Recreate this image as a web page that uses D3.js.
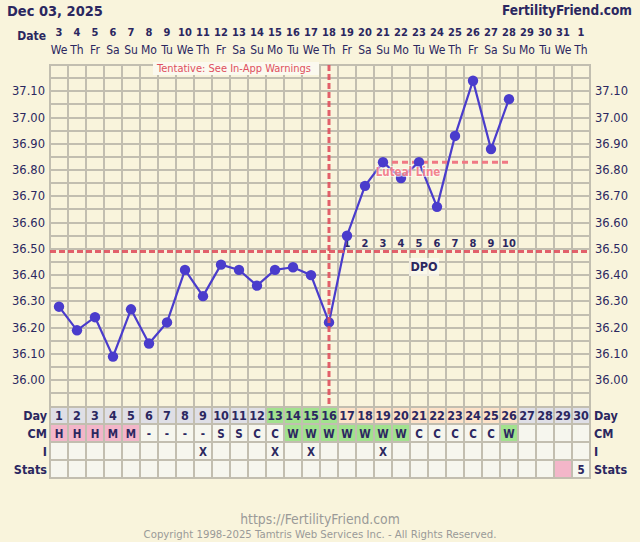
<!DOCTYPE html>
<html>
<head>
<meta charset="utf-8">
<script src="https://cdn.jsdelivr.net/npm/d3@7"></script>
<style>
html,body{margin:0;padding:0;background:#f9f4dc;}
svg{display:block;}
text{font-family:"DejaVu Sans Condensed","DejaVu Sans",sans-serif;font-stretch:condensed;}
</style>
</head>
<body>
<svg id="chart" width="640" height="542"></svg>
<script>
// ---------- data ----------
const cycleDays = d3.range(1, 31);
const dates = [3,4,5,6,7,8,9,10,11,12,13,14,15,16,17,18,19,20,21,22,23,24,25,26,27,28,29,30,31,1];
const weekdays = ["We","Th","Fr","Sa","Su","Mo","Tu","We","Th","Fr","Sa","Su","Mo","Tu","We","Th","Fr","Sa","Su","Mo","Tu","We","Th","Fr","Sa","Su","Mo","Tu","We","Th"];
const temps = [36.28,36.19,36.24,36.09,36.27,36.14,36.22,36.42,36.32,36.44,36.42,36.36,36.42,36.43,36.40,36.22,36.55,36.74,36.83,36.77,36.83,36.66,36.93,37.14,36.88,37.07];
const yTicks = [36.00,36.10,36.20,36.30,36.40,36.50,36.60,36.70,36.80,36.90,37.00,37.10];
const coverline = 36.49;
const ovulationDay = 16;
const lutealLine = {value: 36.83, fromDay: 20, to: 26};
const dpoLabels = [1,2,3,4,5,6,7,8,9,10];
const dpoStartDay = 17;
const dayPhase = ["pre","pre","pre","pre","pre","pre","pre","pre","pre","pre","pre","pre","fertile","fertile","fertile","fertile","post","post","post","post","post","post","post","post","post","post","future","future","future","future"];
const cm = ["H","H","H","M","M","-","-","-","-","S","S","C","C","W","W","W","W","W","W","W","C","C","C","C","C","W","","","",""];
const intercourseDays = [9,13,15,19];
const statsCells = [{day:29, text:"", color:"pink"},{day:30, text:"5", color:""}];
const rowLabels = ["Day","CM","I","Stats"];

// ---------- styles ----------
const navy = "#2b2760";
const gridCol = "#c2beb0";
const red = "#e0505e";
const lineCol = "#4a3ccc";
const phaseFill = {pre:"#dfdfe6", fertile:"#a2e28e", post:"#fde2c8", future:"#dfdfe6"};
const cmFill = v => (v==="H"||v==="M") ? "#f3b6c9" : v==="W" ? "#a2e28e" : "#f6f6ee";
const cellBlank = "#f6f6ee";

const svg = d3.select("#chart");
const x = d3.scaleBand().domain(cycleDays).range([50, 590]);
const y = d3.scaleLinear().domain([35.90, 37.20]).range([406.5, 65]);
const cx = d => x(d) + x.bandwidth()/2;
const rowTop = [406, 424, 442, 460];
const rowH = 18;
const tableBottom = 478;

// ---------- table fills ----------
const tbl = svg.append("g");
tbl.selectAll(".dayc").data(cycleDays).join("rect")
  .attr("x", d => x(d)).attr("y", rowTop[0]).attr("width", x.bandwidth()).attr("height", rowH)
  .attr("fill", (d,i) => phaseFill[dayPhase[i]]);
tbl.selectAll(".cmc").data(cycleDays).join("rect")
  .attr("x", d => x(d)).attr("y", rowTop[1]).attr("width", x.bandwidth()).attr("height", rowH)
  .attr("fill", (d,i) => cmFill(cm[i]));
tbl.selectAll(".ic").data(cycleDays).join("rect")
  .attr("x", d => x(d)).attr("y", rowTop[2]).attr("width", x.bandwidth()).attr("height", rowH)
  .attr("fill", cellBlank);
tbl.selectAll(".sc").data(cycleDays).join("rect")
  .attr("x", d => x(d)).attr("y", rowTop[3]).attr("width", x.bandwidth()).attr("height", rowH)
  .attr("fill", d => { const s = statsCells.find(c => c.day===d); return s && s.color==="pink" ? "#f3b6c9" : cellBlank; });

// ---------- grid ----------
const grid = svg.append("g").attr("stroke", gridCol).attr("stroke-width", 2);
const hVals = d3.range(0, 27).map(i => +(35.90 + i*0.05).toFixed(2));
grid.selectAll(".h").data(hVals).join("line")
  .attr("x1", 50).attr("x2", 590).attr("y1", d => Math.round(y(d))).attr("y2", d => Math.round(y(d)));
grid.selectAll(".r").data(rowTop.slice(1).concat([tableBottom])).join("line")
  .attr("x1", 50).attr("x2", 590).attr("y1", d => d).attr("y2", d => d);
const vEdges = cycleDays.map(d => x(d)).concat([590]);
grid.selectAll(".v").data(vEdges).join("line")
  .attr("x1", d => d).attr("x2", d => d).attr("y1", 64).attr("y2", tableBottom + 1);

// ---------- header ----------
svg.append("text").attr("x", 7).attr("y", 16).attr("fill", navy)
  .attr("font-size", 14.5).attr("font-weight", "bold").text("Dec 03, 2025");
svg.append("text").attr("x", 632).attr("y", 15).attr("text-anchor", "end").attr("fill", navy)
  .attr("font-size", 13.5).attr("font-weight", "bold").text("FertilityFriend.com");
svg.append("text").attr("x", 46).attr("y", 40).attr("text-anchor", "end").attr("fill", navy)
  .attr("font-size", 12).attr("font-weight", "bold").text("Date");
svg.append("g").selectAll("text").data(cycleDays).join("text")
  .attr("x", d => cx(d)).attr("y", 36).attr("text-anchor", "middle").attr("fill", navy)
  .attr("font-size", 11).attr("font-weight", "bold").text((d,i) => dates[i]);
svg.append("g").selectAll("text").data(cycleDays).join("text")
  .attr("x", d => cx(d)).attr("y", 54).attr("text-anchor", "middle").attr("fill", navy)
  .attr("font-size", 12).text((d,i) => weekdays[i]);

// ---------- y axes ----------
const yl = svg.append("g");
yl.selectAll(".l").data(yTicks).join("text")
  .attr("x", 45).attr("y", d => y(d) + 4).attr("text-anchor", "end").attr("fill", navy)
  .attr("font-size", 12.8).text(d => d.toFixed(2));
yl.selectAll(".rr").data(yTicks).join("text")
  .attr("x", 595).attr("y", d => y(d) + 4).attr("text-anchor", "start").attr("fill", navy)
  .attr("font-size", 12.8).text(d => d.toFixed(2));

// ---------- tentative label ----------
svg.append("rect").attr("x", 153).attr("y", 62).attr("width", 166).attr("height", 13).attr("fill", "#fbf9ef");
svg.append("text").attr("x", 157).attr("y", 71.5).attr("fill", red).attr("font-size", 11)
  .text("Tentative: See In-App Warnings");

// ---------- DPO ----------
svg.append("g").selectAll("text").data(dpoLabels).join("text")
  .attr("x", (d,i) => cx(dpoStartDay + i)).attr("y", 247).attr("text-anchor", "middle")
  .attr("fill", navy).attr("font-size", 11).attr("font-weight", "bold").text(d => d);
svg.append("rect").attr("x", 409).attr("y", 258).attr("width", 30).attr("height", 18).attr("fill", "#fbf9ef").attr("opacity", 0.8);
svg.append("text").attr("x", 424).attr("y", 270.5).attr("text-anchor", "middle").attr("fill", navy)
  .attr("font-size", 12.5).attr("font-weight", "bold").text("DPO");

// ---------- luteal line ----------
svg.append("line").attr("x1", x(lutealLine.fromDay)).attr("x2", cx(lutealLine.to))
  .attr("y1", y(lutealLine.value)).attr("y2", y(lutealLine.value))
  .attr("stroke", "#f07884").attr("stroke-width", 3).attr("stroke-dasharray", "6,4");

// ---------- temperature line ----------
const line = d3.line().x((d,i) => cx(i+1)).y(d => y(d));
svg.append("path").datum(temps).attr("d", line).attr("fill", "none")
  .attr("stroke", lineCol).attr("stroke-width", 2.2);
svg.append("g").selectAll("circle").data(temps).join("circle")
  .attr("cx", (d,i) => cx(i+1)).attr("cy", d => y(d)).attr("r", 5.2).attr("fill", lineCol);

svg.append("text").attr("x", 408).attr("y", 175.5).attr("text-anchor", "middle")
  .attr("fill", "#f27482").attr("fill-opacity", 0.9).attr("stroke", "#ffffff").attr("stroke-opacity", 0.6)
  .attr("stroke-width", 2).attr("paint-order", "stroke")
  .attr("font-size", 11.5).attr("font-weight", "bold").text("Luteal Line");

// ---------- coverline & ovulation ----------
svg.append("line").attr("x1", 50).attr("x2", 590).attr("y1", y(coverline)).attr("y2", y(coverline))
  .attr("stroke", red).attr("stroke-width", 3).attr("stroke-dasharray", "6,3").attr("opacity", 0.9);
svg.append("line").attr("x1", cx(ovulationDay)).attr("x2", cx(ovulationDay)).attr("y1", 65).attr("y2", 405)
  .attr("stroke", red).attr("stroke-width", 3).attr("stroke-dasharray", "6,3").attr("opacity", 0.9);

// ---------- table text ----------
const tt = svg.append("g").attr("fill", navy).attr("font-weight", "bold").attr("text-anchor", "middle");
tt.selectAll(".dn").data(cycleDays).join("text")
  .attr("x", d => cx(d)).attr("y", rowTop[0] + 14).attr("font-size", 12.5).text(d => d);
tt.selectAll(".cmt").data(cycleDays).join("text")
  .attr("x", d => cx(d)).attr("y", rowTop[1] + 13.5).attr("font-size", 11.5).text((d,i) => cm[i]);
tt.selectAll(".it").data(intercourseDays).join("text")
  .attr("x", d => cx(d)).attr("y", rowTop[2] + 13.5).attr("font-size", 11.5).text("X");
tt.selectAll(".st").data(statsCells.filter(c => c.text)).join("text")
  .attr("x", d => cx(d.day)).attr("y", rowTop[3] + 13.5).attr("font-size", 11.5).text(d => d.text);

const rl = svg.append("g").attr("fill", navy).attr("font-weight", "bold").attr("font-size", 12.5);
rl.selectAll(".ll").data(rowLabels).join("text")
  .attr("x", 47).attr("y", (d,i) => rowTop[i] + 13.5).attr("text-anchor", "end").text(d => d);
rl.selectAll(".rl").data(rowLabels).join("text")
  .attr("x", 594).attr("y", (d,i) => rowTop[i] + 13.5).attr("text-anchor", "start").text(d => d);

// ---------- footer ----------
svg.append("text").attr("x", 320).attr("y", 524).attr("text-anchor", "middle").attr("fill", "#9a9a98")
  .attr("font-size", 13.8).text("https://FertilityFriend.com");
svg.append("text").attr("x", 320).attr("y", 538).attr("text-anchor", "middle").attr("fill", "#9a9a98")
  .attr("font-size", 11.3).text("Copyright 1998-2025 Tamtris Web Services Inc. - All Rights Reserved.");
</script>
</body>
</html>
